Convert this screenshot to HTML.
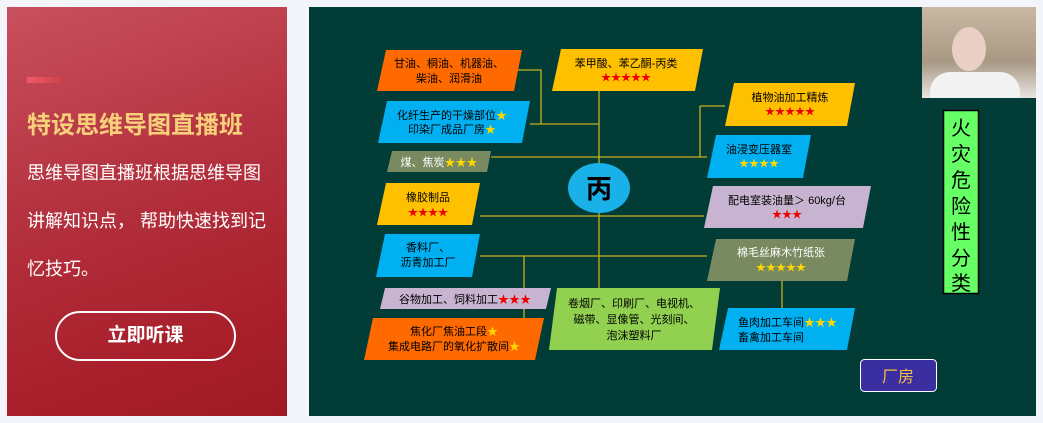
<!DOCTYPE html>
<html><head><meta charset="utf-8"><style>
html,body{margin:0;padding:0;width:1043px;height:423px;overflow:hidden;background:#f3f5fa;font-family:"Liberation Sans","Noto Sans CJK SC",sans-serif}
#left{position:absolute;left:7px;top:7px;width:280px;height:409px;background:linear-gradient(160deg,#c9505e 0%,#b3303d 45%,#a81f2a 80%,#9e1a22 100%)}
#left .bar{position:absolute;left:20px;top:70px;width:46px;height:6px;background:linear-gradient(90deg,#f25a66,#c8404a 80%,transparent)}
#left .t{position:absolute;left:20px;top:98px;font-size:24px;font-weight:bold;color:#f7d07a;white-space:nowrap}
#left .l{position:absolute;left:20px;font-size:18px;color:#fff;white-space:nowrap}
#left .btn{position:absolute;left:48px;top:304px;width:181px;height:50px;border:2px solid #fff;border-radius:27px;box-sizing:border-box;color:#fff;font-size:19px;font-weight:bold;text-align:center;line-height:46px}
#green{position:absolute;left:309px;top:7px;width:727px;height:409px;background:#013c36}
#cam{position:absolute;left:922px;top:7px;width:114px;height:91px;background:linear-gradient(180deg,#c8b8a4,#a89884 60%,#e8e4e0)}
svg{position:absolute;left:0;top:0}
</style></head><body>
<div id="left"><div class="bar"></div><div class="t">特设思维导图直播班</div>
<div class="l" style="top:152px">思维导图直播班根据思维导图</div>
<div class="l" style="top:200px">讲解知识点， 帮助快速找到记</div>
<div class="l" style="top:248px">忆技巧。</div>
<div class="btn">立即听课</div></div>
<div id="green"></div>
<div id="cam"><div style="position:absolute;left:30px;top:20px;width:34px;height:44px;border-radius:50%;background:#e8d0c4"></div><div style="position:absolute;left:8px;top:65px;width:90px;height:26px;border-radius:20px 20px 0 0;background:#f2f2f2"></div></div>
<svg width="1043" height="423" font-family="Liberation Sans, Noto Sans CJK SC, sans-serif" font-size="11">
<g stroke="#c8b020" stroke-width="1.3" fill="none">
<path d="M514 70H541V124M530 124H599M599 91V288M491 157H700M700 106V157M700 106H725M700 157H707M480 216H704M480 256H707M524 256V318M782 281V308"/>
</g>
<g>
<polygon points="386,50 522,50 514,91 377,91" fill="#ff6a00"/>
<polygon points="561,49 703,49 695,91 552,91" fill="#ffc000"/>
<polygon points="387,101 530,101 522,143 378,143" fill="#00b0f0"/>
<polygon points="392,151 491,151 487,172 387,172" fill="#7a8a60"/>
<polygon points="386,183 480,183 472,225 377,225" fill="#ffc000"/>
<polygon points="385,234 480,234 472,277 376,277" fill="#00b0f0"/>
<polygon points="385,288 551,288 546,309 380,309" fill="#c8b4d0"/>
<polygon points="373,318 544,318 535,360 364,360" fill="#ff6a00"/>
<polygon points="557,288 720,288 712,350 549,350" fill="#92d050"/>
<polygon points="734,83 855,83 847,126 725,126" fill="#ffc000"/>
<polygon points="716,135 811,135 803,178 707,178" fill="#00b0f0"/>
<polygon points="713,186 871,186 863,228 704,228" fill="#c8b4d0"/>
<polygon points="716,239 855,239 847,281 707,281" fill="#7a8a60"/>
<polygon points="728,308 855,308 847,350 719,350" fill="#00b0f0"/>
</g>
<ellipse cx="599" cy="188" rx="31" ry="25" fill="#1ab0e8"/>
<text x="599" y="198" font-size="26" font-weight="bold" text-anchor="middle" fill="#000">丙</text>
<g text-anchor="middle" fill="#000">
<text x="449" y="67">甘油、桐油、机器油、</text><text x="449" y="82">柴油、润滑油</text>
<text x="626" y="67">苯甲酸、苯乙酮-丙类</text><text x="626" y="81" fill="#e00" font-size="10">★★★★★</text>
<text x="452" y="119">化纤生产的干燥部位<tspan fill="#ffd700">★</tspan></text><text x="452" y="133">印染厂成品厂房<tspan fill="#ffd700">★</tspan></text>
<text x="439" y="166" fill="#fff">煤、焦炭<tspan fill="#ffd700">★★★</tspan></text>
<text x="428" y="201">橡胶制品</text><text x="428" y="216" fill="#e00" font-size="10">★★★★</text>
<text x="428" y="251">香料厂、</text><text x="428" y="266">沥青加工厂</text>
<text x="465" y="303">谷物加工、饲料加工<tspan fill="#e00">★★★</tspan></text>
<text x="454" y="335">焦化厂焦油工段<tspan fill="#ffd700">★</tspan></text><text x="454" y="350">集成电路厂的氧化扩散间<tspan fill="#ffd700">★</tspan></text>
<text x="634" y="307">卷烟厂、印刷厂、电视机、</text><text x="634" y="323">磁带、显像管、光刻间、</text><text x="634" y="339">泡沫塑料厂</text>
<text x="790" y="101">植物油加工精炼</text><text x="790" y="115" fill="#e00" font-size="10">★★★★★</text>
<text x="759" y="153">油浸变压器室</text><text x="759" y="167" fill="#ffd700" font-size="10">★★★★</text>
<text x="787" y="204">配电室装油量＞ 60kg/台</text><text x="787" y="218" fill="#e00" font-size="10">★★★</text>
<text x="781" y="256" fill="#fff">棉毛丝麻木竹纸张</text><text x="781" y="271" fill="#ffd700" font-size="10">★★★★★</text>
</g>
<text x="738" y="326">鱼肉加工车间<tspan fill="#ffd700">★★★</tspan></text><text x="738" y="341">畜禽加工车间</text>
<rect x="860.5" y="359.5" width="76" height="32" rx="4" fill="#3a2ea0" stroke="#fff" stroke-width="1"/>
<text x="898" y="382" font-size="16" fill="#f0c040" text-anchor="middle">厂房</text>
<rect x="943.5" y="110.5" width="35" height="183" fill="#66ff66" stroke="#000" stroke-width="1.5"/>
<g font-size="20" text-anchor="middle" fill="#000">
<text x="961" y="135">火</text><text x="961" y="161">灾</text><text x="961" y="187">危</text><text x="961" y="213">险</text><text x="961" y="239">性</text><text x="961" y="265">分</text><text x="961" y="290">类</text>
</g>
</svg>
</body></html>
